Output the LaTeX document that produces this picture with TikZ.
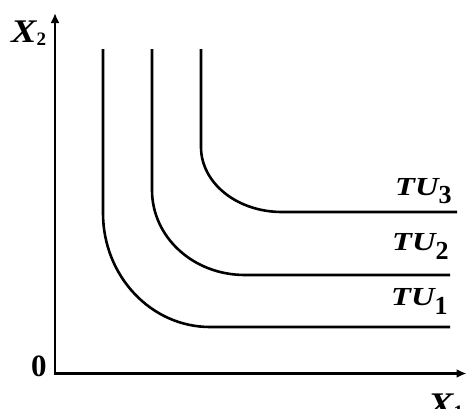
\documentclass[tikz,border=0pt]{standalone}
\usepackage{fontspec}
\setmainfont{Liberation Serif}
\usetikzlibrary{arrows.meta}
\newcommand{\biglab}[2]{\scalebox{1.15}[1]{\fontsize{33}{33}\selectfont\bfseries\itshape #1}\raisebox{-3pt}{\fontsize{19}{19}\selectfont\bfseries #2}}
\newcommand{\tulab}[1]{\scalebox{1.25}[1]{\fontsize{26}{26}\selectfont\bfseries\itshape TU}\raisebox{-8.5pt}{\fontsize{26}{26}\selectfont\bfseries #1}}
\begin{document}
\begin{tikzpicture}[x=1pt,y=-1pt,
  axis/.style={line width=2.8pt, {Latex[length=10pt,width=9pt]}-{Latex[length=10pt,width=9pt]}},
  tucurve/.style={line width=2.6pt},
  lab/.style={inner sep=0pt, anchor=base west}]
\useasboundingbox (0,0) rectangle (467,408);
% axes
\coordinate (ytip) at (55,13);
\coordinate (O) at (55,373.5);
\coordinate (xtip) at (466.5,373.5);
\draw[axis] (ytip) -- (O) -- (xtip);
% TU1
\draw[tucurve] (103,49) -- (103,213) .. controls (103,276) and (151,327) .. (210,327) -- (450,327);
% TU2
\draw[tucurve] (152,49) -- (152,190) .. controls (152,237) and (193,275) .. (245,275) -- (450,275);
% TU3
\draw[tucurve] (201,49) -- (201,147) .. controls (201,183) and (237,212) .. (282,212) -- (457,212);
% labels
\node[lab] (x2) at (11,42.3) {\biglab{X}{2}};
\node[lab] (x1) at (428,415) {\biglab{X}{1}};
\node[lab] (zero) at (31,376) {\fontsize{31}{31}\selectfont\bfseries 0};
\node[lab] (tu3) at (395,195) {\tulab{3}};
\node[lab] (tu2) at (392,250.7) {\tulab{2}};
\node[lab] (tu1) at (391,305.7) {\tulab{1}};
\end{tikzpicture}
\end{document}
